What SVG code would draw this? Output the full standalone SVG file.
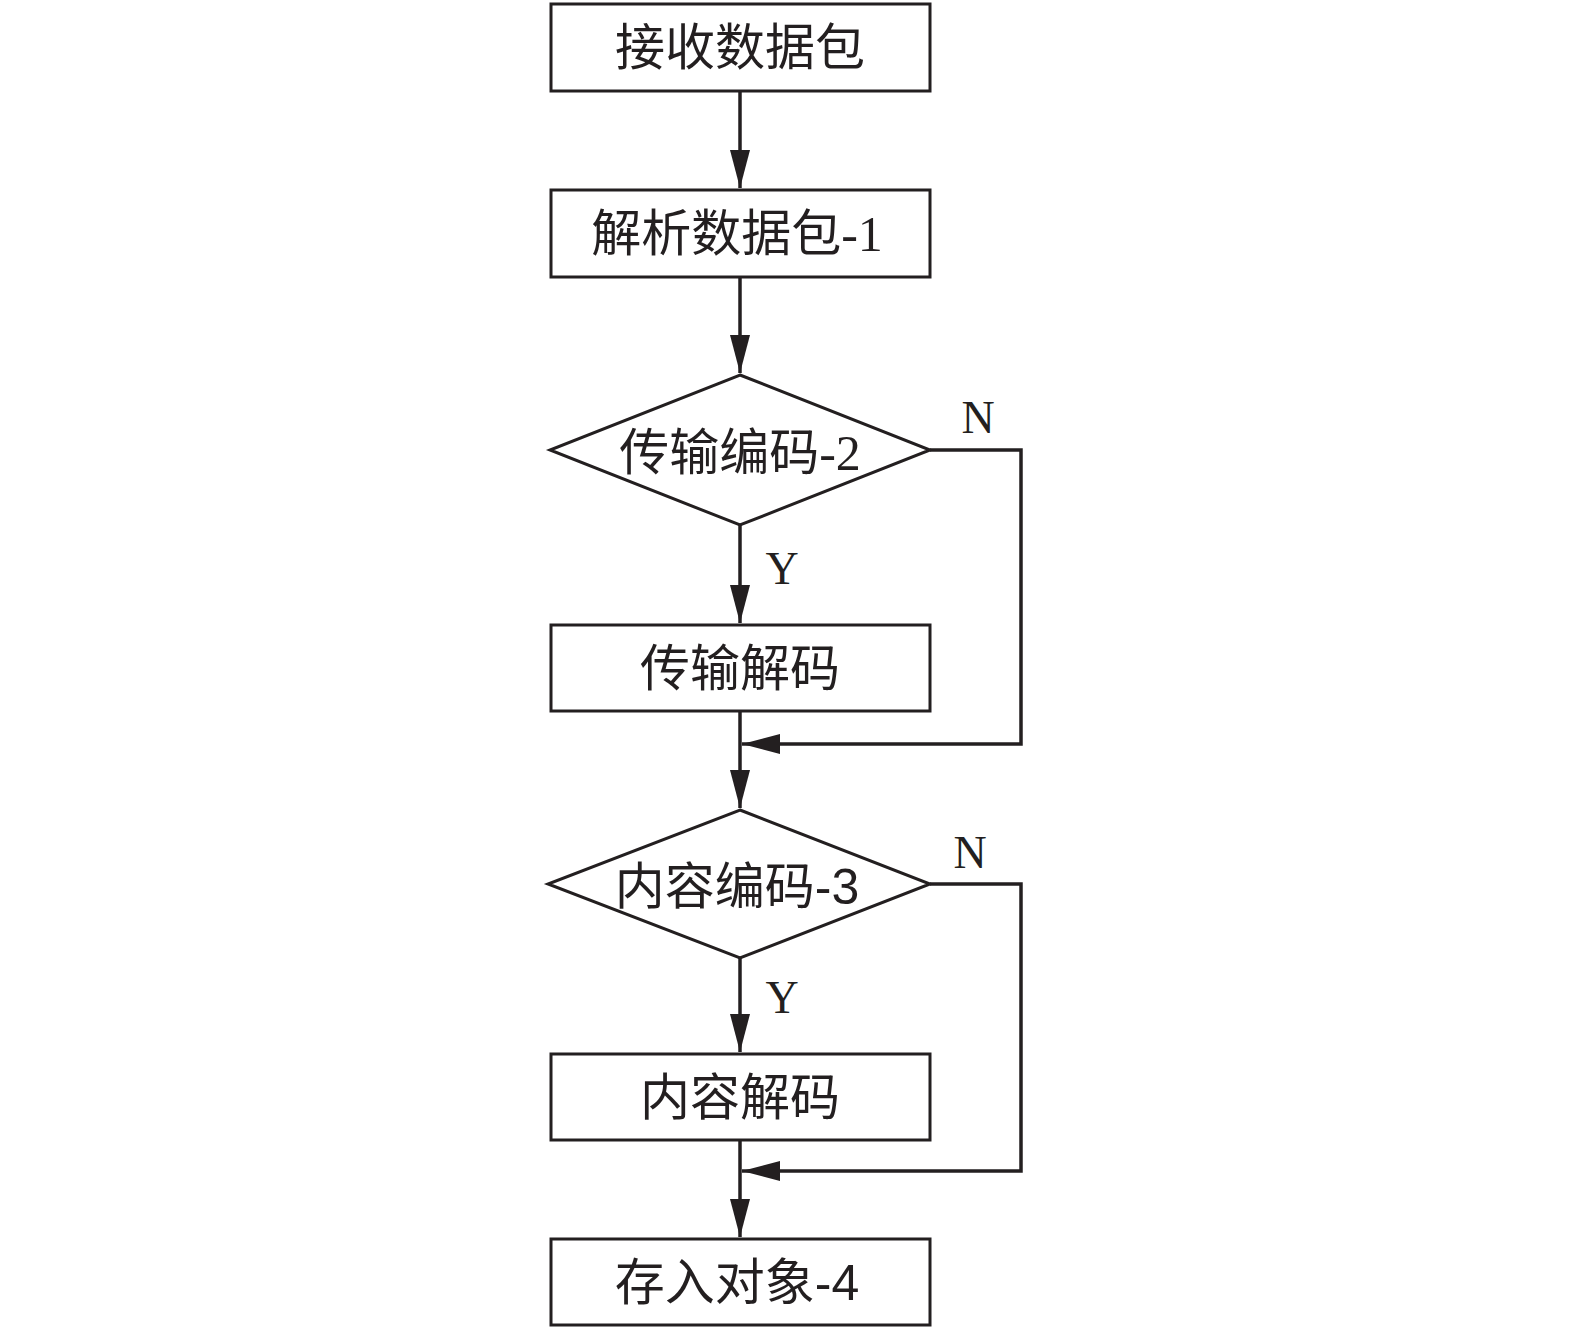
<svg xmlns="http://www.w3.org/2000/svg" width="1575" height="1332" viewBox="0 0 1575 1332">
<style>
.box{fill:#fff;stroke:#231f20;stroke-width:3}
.t{font-family:"Liberation Serif","Noto Sans CJK SC",serif;font-size:50px;fill:#231f20;text-anchor:middle}
.s{font-family:"Liberation Sans",sans-serif}
.lbl{font-family:"Liberation Serif",serif;font-size:46px;fill:#231f20;text-anchor:middle}
.c{fill:none;stroke:#231f20;stroke-width:3.5}
</style>
<defs>
<marker id="ah" markerUnits="userSpaceOnUse" markerWidth="40" markerHeight="22" refX="38" refY="10" orient="auto">
<path d="M0,0 L38,10 L0,20 z" fill="#231f20"/>
</marker>
</defs>
<g id="connectors">
<path class="c" d="M740,92 V188" marker-end="url(#ah)"/>
<path class="c" d="M740,277 V373" marker-end="url(#ah)"/>
<path class="c" d="M740,525 V623" marker-end="url(#ah)"/>
<path class="c" d="M740,711 V808" marker-end="url(#ah)"/>
<path class="c" d="M930,450 H1021 V744 H742" marker-end="url(#ah)"/>
<path class="c" d="M740,958 V1052" marker-end="url(#ah)"/>
<path class="c" d="M740,1140 V1237" marker-end="url(#ah)"/>
<path class="c" d="M930,884 H1021 V1171 H742" marker-end="url(#ah)"/>
<text class="lbl" x="978" y="433">N</text>
<text class="lbl" x="782" y="584">Y</text>
<text class="lbl" x="970" y="868">N</text>
<text class="lbl" x="782" y="1013">Y</text>
</g>
<g id="n1"><rect class="box" x="551" y="4" width="379" height="87"/><text class="t" x="740" y="65">接收数据包</text></g>
<g id="n2"><rect class="box" x="551" y="190" width="379" height="87"/><text class="t" x="737" y="251">解析数据包-1</text></g>
<g id="n3"><polygon class="box" points="740,375 930,450 740,525 550,450"/><text class="t" x="740" y="470">传输编码-2</text></g>
<g id="n4"><rect class="box" x="551" y="625" width="379" height="86"/><text class="t" x="740" y="686">传输解码</text></g>
<g id="n5"><polygon class="box" points="740,810 930,884 740,958 548,884"/><text class="t" x="737" y="904">内容编码<tspan class="s">-3</tspan></text></g>
<g id="n6"><rect class="box" x="551" y="1054" width="379" height="86"/><text class="t" x="740" y="1115">内容解码</text></g>
<g id="n7"><rect class="box" x="551" y="1239" width="379" height="86"/><text class="t" x="737" y="1300">存入对象<tspan class="s">-4</tspan></text></g>
</svg>
